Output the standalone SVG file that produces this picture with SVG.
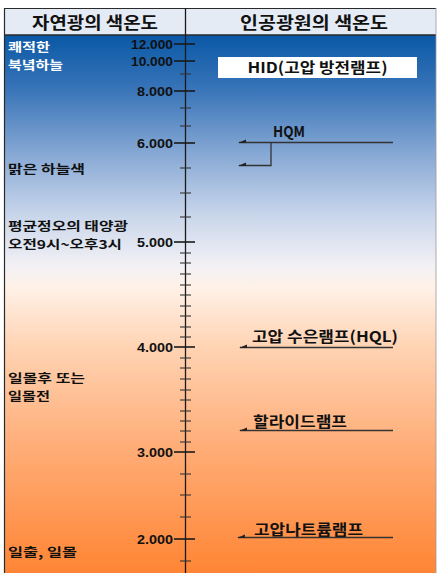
<svg xmlns="http://www.w3.org/2000/svg" width="439" height="573" viewBox="0 0 439 573">
<defs>
<linearGradient id="bg" gradientUnits="userSpaceOnUse" x1="0" y1="35" x2="0" y2="573">
<stop offset="0" stop-color="#0a58a6"/>
<stop offset="0.1" stop-color="#3874b8"/>
<stop offset="0.22" stop-color="#86a8d4"/>
<stop offset="0.33" stop-color="#c6d4ea"/>
<stop offset="0.43" stop-color="#f3f1f5"/>
<stop offset="0.47" stop-color="#fff1e7"/>
<stop offset="0.58" stop-color="#ffd3b3"/>
<stop offset="0.77" stop-color="#ffac76"/>
<stop offset="1" stop-color="#ff8534"/>
</linearGradient>
<style>
.hdr{font-family:"Noto Sans CJK KR","Liberation Sans",sans-serif;font-weight:bold;font-size:17px;fill:#111}
.lbl{font-family:"Noto Sans CJK KR","Liberation Sans",sans-serif;font-weight:bold;font-size:12px;fill:#111}
.wht{fill:#fff}
.num{font-family:"Liberation Sans","Noto Sans CJK KR",sans-serif;font-weight:bold;font-size:13px;fill:#111;text-anchor:end}
.lamp{font-family:"Noto Sans CJK KR","Liberation Sans",sans-serif;font-weight:bold;font-size:15px;fill:#111}
.maj{stroke:#1a1a1a;stroke-width:1.6}
.min{stroke:#333;stroke-width:1.1}
.ln{stroke:#333;stroke-width:1.3;fill:none}
.ah{fill:#222}
</style>
</defs>
<rect x="0" y="0" width="439" height="573" fill="#fff"/>
<rect x="4" y="35" width="432" height="538" fill="url(#bg)"/>
<rect x="4" y="8" width="432" height="27" fill="#e5ebf5"/>
<g id="frame" fill="none" stroke="#2a2a2a">
<line x1="4.5" y1="8" x2="4.5" y2="573" stroke-width="1.2"/>
<line x1="4" y1="8.5" x2="436" y2="8.5" stroke-width="1.2"/>
<line x1="4" y1="35" x2="436" y2="35" stroke-width="1.4"/>
<line x1="436" y1="8" x2="436" y2="573" stroke-width="0.8" stroke="#999"/>
</g>
<g id="header-natural"><text class="hdr" x="32" y="29" textLength="126" lengthAdjust="spacingAndGlyphs">자연광의 색온도</text></g>
<g id="header-artificial"><text class="hdr" x="240" y="29" textLength="148" lengthAdjust="spacingAndGlyphs">인공광원의 색온도</text></g>
<g id="axis">
<line x1="185.5" y1="8" x2="185.5" y2="573" stroke="#1a1a1a" stroke-width="1.3"/>
<g class="maj">
<line x1="174" y1="44" x2="195" y2="44"/>
<line x1="174" y1="61" x2="195" y2="61"/>
<line x1="174" y1="91" x2="195" y2="91"/>
<line x1="174" y1="143" x2="195" y2="143"/>
<line x1="174" y1="242" x2="195" y2="242"/>
<line x1="174" y1="347" x2="195" y2="347"/>
<line x1="174" y1="452" x2="195" y2="452"/>
<line x1="174" y1="539" x2="195" y2="539"/>
</g>
<g class="min">
<line x1="180" y1="74" x2="191" y2="74"/>
<line x1="180" y1="108" x2="191" y2="108"/>
<line x1="180" y1="126" x2="191" y2="126"/>
<line x1="180" y1="168" x2="191" y2="168"/>
<line x1="180" y1="193" x2="191" y2="193"/>
<line x1="180" y1="217" x2="191" y2="217"/>
<line x1="180" y1="253" x2="191" y2="253"/>
<line x1="180" y1="263" x2="191" y2="263"/>
<line x1="180" y1="274" x2="191" y2="274"/>
<line x1="180" y1="285" x2="191" y2="285"/>
<line x1="180" y1="295" x2="191" y2="295"/>
<line x1="180" y1="306" x2="191" y2="306"/>
<line x1="180" y1="316" x2="191" y2="316"/>
<line x1="180" y1="327" x2="191" y2="327"/>
<line x1="180" y1="337" x2="191" y2="337"/>
<line x1="180" y1="358" x2="191" y2="358"/>
<line x1="180" y1="368" x2="191" y2="368"/>
<line x1="180" y1="379" x2="191" y2="379"/>
<line x1="180" y1="390" x2="191" y2="390"/>
<line x1="180" y1="400" x2="191" y2="400"/>
<line x1="180" y1="411" x2="191" y2="411"/>
<line x1="180" y1="421" x2="191" y2="421"/>
<line x1="180" y1="431" x2="191" y2="431"/>
<line x1="180" y1="442" x2="191" y2="442"/>
<line x1="180" y1="474" x2="191" y2="474"/>
<line x1="180" y1="495" x2="191" y2="495"/>
<line x1="180" y1="517" x2="191" y2="517"/>
<line x1="180" y1="561" x2="191" y2="561"/>
</g>
<text class="num" x="173" y="49" textLength="42" lengthAdjust="spacingAndGlyphs">12.000</text>
<text class="num" x="173" y="66" textLength="42" lengthAdjust="spacingAndGlyphs">10.000</text>
<text class="num" x="173" y="96" textLength="36" lengthAdjust="spacingAndGlyphs">8.000</text>
<text class="num" x="173" y="148" textLength="36" lengthAdjust="spacingAndGlyphs">6.000</text>
<text class="num" x="173" y="247" textLength="36" lengthAdjust="spacingAndGlyphs">5.000</text>
<text class="num" x="173" y="352" textLength="36" lengthAdjust="spacingAndGlyphs">4.000</text>
<text class="num" x="173" y="457" textLength="36" lengthAdjust="spacingAndGlyphs">3.000</text>
<text class="num" x="173" y="544" textLength="36" lengthAdjust="spacingAndGlyphs">2.000</text>
</g>
<g id="n-north-sky"><text class="lbl wht"><tspan x="8" y="52" textLength="42" lengthAdjust="spacingAndGlyphs">쾌적한</tspan><tspan x="8" y="70" textLength="55" lengthAdjust="spacingAndGlyphs">북녘하늘</tspan></text></g>
<g id="n-clear-sky"><text class="lbl" x="8" y="174" textLength="77" lengthAdjust="spacingAndGlyphs">맑은 하늘색</text></g>
<g id="n-noon"><text class="lbl"><tspan x="8" y="231" textLength="120" lengthAdjust="spacingAndGlyphs">평균정오의 태양광</tspan><tspan x="8" y="249" textLength="114" lengthAdjust="spacingAndGlyphs">오전9시~오후3시</tspan></text></g>
<g id="n-sunset"><text class="lbl"><tspan x="8" y="383" textLength="77" lengthAdjust="spacingAndGlyphs">일몰후 또는</tspan><tspan x="8" y="401" textLength="42" lengthAdjust="spacingAndGlyphs">일몰전</tspan></text></g>
<g id="n-sunrise"><text class="lbl" x="8" y="557" textLength="69" lengthAdjust="spacingAndGlyphs">일출, 일몰</text></g>
<g id="n-hid"><rect x="218" y="57" width="199" height="21" fill="#fff"/><text class="lamp" x="317.5" y="73" text-anchor="middle" textLength="140" lengthAdjust="spacingAndGlyphs">HID(고압 방전램프)</text></g>
<g id="n-hqm"><text class="lamp" x="273" y="137" textLength="32" lengthAdjust="spacingAndGlyphs">HQM</text></g>
<g id="n-hql"><text class="lamp" x="252" y="342" textLength="146" lengthAdjust="spacingAndGlyphs">고압 수은램프(HQL)</text></g>
<g id="n-halide"><text class="lamp" x="253" y="427" textLength="94" lengthAdjust="spacingAndGlyphs">할라이드램프</text></g>
<g id="n-sodium"><text class="lamp" x="254" y="535" textLength="109" lengthAdjust="spacingAndGlyphs">고압나트륨램프</text></g>
<g id="connectors">
<path class="ln" d="M239 142.5H393" stroke="#3a4a60"/>
<path class="ln" d="M271 142.5V165.5H239" stroke="#3a4a60"/>
<path class="ln" d="M240 347.5H393"/>
<path class="ln" d="M240 430.5H393"/>
<path class="ln" d="M238 537.5H393"/>
<polygon class="ah" points="238,143 246,143 246,139.5"/>
<polygon class="ah" points="238,166 246,166 246,162.5"/>
<polygon class="ah" points="239,348 247,348 247,344.5"/>
<polygon class="ah" points="239,431 247,431 247,427.5"/>
<polygon class="ah" points="237,538 245,538 245,534.5"/>
</g>
</svg>
